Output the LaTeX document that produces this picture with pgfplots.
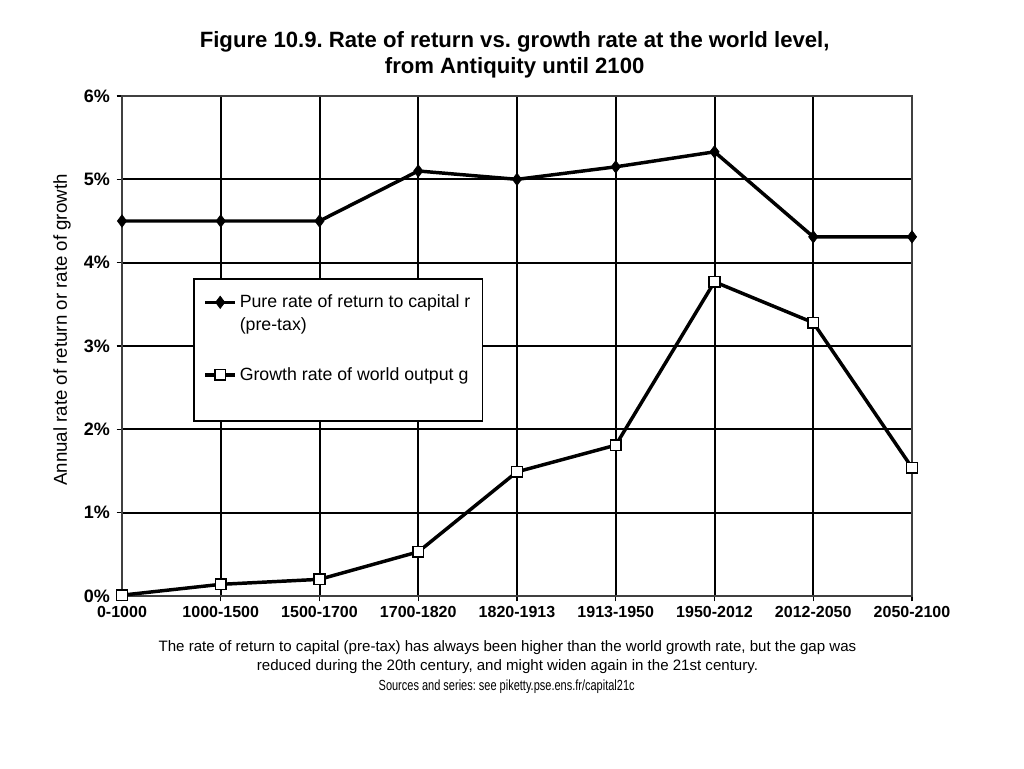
\documentclass[border=0pt]{standalone}
\usepackage{fontspec}
\setmainfont{Liberation Sans}
\usepackage{pgfplots}
\pgfplotsset{compat=1.18}
\frenchspacing
\begin{document}
\begin{tikzpicture}
\path[use as bounding box, fill=white] (0,0) rectangle (768pt,576pt);
\begin{axis}[
  at={(91.5pt,129pt)}, anchor=south west,
  scale only axis, width=592.5pt, height=375pt,
  xmin=0, xmax=8, ymin=0, ymax=6,
  xtick={0,...,8},
  xticklabels={0-1000,1000-1500,1500-1700,1700-1820,1820-1913,1913-1950,1950-2012,2012-2050,2050-2100},
  ytick={0,...,6},
  /pgf/number format/assume math mode=true,
  yticklabel={\pgfmathprintnumber{\tick}\%},
  xticklabel style={font=\fontsize{12}{14}\selectfont\bfseries},
  yticklabel style={font=\fontsize{13.5}{15}\selectfont\bfseries, xshift=-1.5pt},
  tick pos=left, tick align=outside,
  major tick length=4pt,
  tick style={black, line width=0.8pt},
  grid=major,
  major grid style={black, line width=1.5pt},
  axis line style={draw=black!75, line width=1pt},
  ylabel={Annual rate of return or rate of growth},
  ylabel style={font=\fontsize{14}{16}\selectfont, at={(rel axis cs:-0.076,0.532)}, anchor=center},
  legend style={at={(rel axis cs:0.09,0.636)}, anchor=north west,
    draw=black, line width=1.3pt, inner xsep=7pt, inner ysep=10pt,
    row sep=22pt,
    font=\fontsize{13.3}{17.25}\selectfont,
    cells={anchor=west, align=left}},
  legend image code/.code={
    \draw[#1] (0cm,8.6pt) -- (0.8cm,8.6pt);
    \draw[#1, only marks] plot coordinates {(0.4cm,8.6pt)};
  },
  clip=false,
]
\addplot[black, line width=2.6pt, mark=diamond*, mark size=4.6pt,
  mark options={solid, fill=black, line width=0.5pt}]
  coordinates {(0,4.5) (1,4.5) (2,4.5) (3,5.1) (4,5.0) (5,5.15) (6,5.33) (7,4.31) (8,4.31)};
\addlegendentry{Pure rate of return to capital r\\(pre-tax)}
\addplot[black, line width=2.6pt, mark=square*, mark size=4pt,
  mark options={solid, fill=white, line width=1.2pt}]
  coordinates {(0,0.01) (1,0.14) (2,0.2) (3,0.53) (4,1.49) (5,1.81) (6,3.77) (7,3.28) (8,1.54)};
\addlegendentry{Growth rate of world output g\\\strut}
\end{axis}
\node[align=center, font=\fontsize{16.6}{19.5}\selectfont\bfseries] at (386pt,535pt)
  {Figure 10.9. Rate of return vs. growth rate at the world level,\\from Antiquity until 2100};
\node[align=center, font=\fontsize{11.3}{14.25}\selectfont] at (380.6pt,83pt)
  {The rate of return to capital (pre-tax) has always been higher than the world growth rate, but the gap was\\reduced during the 20th century, and might widen again in the 21st century.};
\node[font=\fontsize{11}{13}\selectfont\addfontfeatures{FakeStretch=0.75}] at (380pt,60.75pt)
  {Sources and series: see piketty.pse.ens.fr/capital21c};
\end{tikzpicture}
\end{document}
